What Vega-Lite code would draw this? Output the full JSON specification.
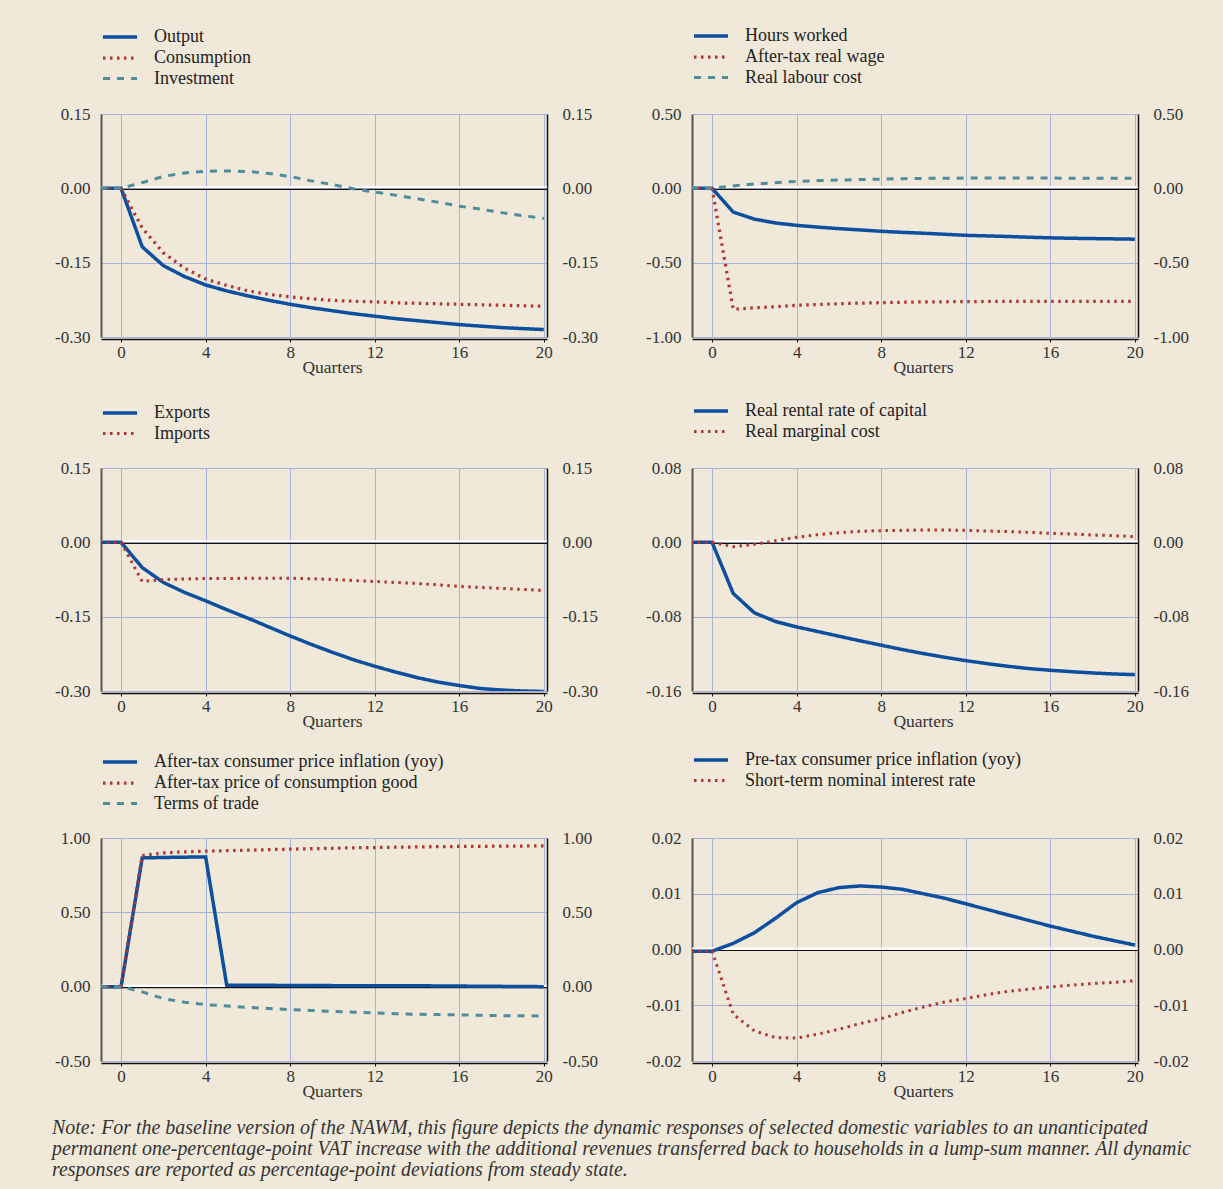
{
"$schema":"https://vega.github.io/schema/vega-lite/v6.json",
"background":"#f0e8d9",
"padding":{"left":52,"top":24,"right":40,"bottom":12},
"config":{"view":{"stroke":null},"font":"Liberation Serif",
"axis":{"labelFont":"Liberation Serif","labelFontSize":17,"labelColor":"#333333","titleFont":"Liberation Serif","titleFontSize":17.5,"titleFontWeight":"normal","titleColor":"#333333"},
"legend":{"labelFont":"Liberation Serif","labelFontSize":18,"labelColor":"#222222","labelOffset":22,"rowPadding":0,"symbolType":"M-1.7,0H1.7","symbolSize":400,"symbolStrokeWidth":3.5,"padding":0,"labelLimit":600}},
"datasets":{
"zero":[{"q":-1,"v":0},{"q":21,"v":0}],
"p1":[
{"s":"Output","q":-1,"v":0},{"s":"Output","q":0,"v":0},{"s":"Output","q":1,"v":-0.118},{"s":"Output","q":2,"v":-0.156},{"s":"Output","q":3,"v":-0.178},{"s":"Output","q":4,"v":-0.195},{"s":"Output","q":5,"v":-0.207},{"s":"Output","q":6,"v":-0.217},{"s":"Output","q":7,"v":-0.226},{"s":"Output","q":8,"v":-0.234},{"s":"Output","q":9,"v":-0.241},{"s":"Output","q":10,"v":-0.247},{"s":"Output","q":11,"v":-0.253},{"s":"Output","q":12,"v":-0.258},{"s":"Output","q":13,"v":-0.263},{"s":"Output","q":14,"v":-0.267},{"s":"Output","q":15,"v":-0.271},{"s":"Output","q":16,"v":-0.275},{"s":"Output","q":17,"v":-0.278},{"s":"Output","q":18,"v":-0.281},{"s":"Output","q":19,"v":-0.283},{"s":"Output","q":20,"v":-0.285},
{"s":"Consumption","q":-1,"v":0},{"s":"Consumption","q":0,"v":0},{"s":"Consumption","q":1,"v":-0.08},{"s":"Consumption","q":2,"v":-0.13},{"s":"Consumption","q":3,"v":-0.161},{"s":"Consumption","q":4,"v":-0.183},{"s":"Consumption","q":5,"v":-0.196},{"s":"Consumption","q":6,"v":-0.207},{"s":"Consumption","q":7,"v":-0.214},{"s":"Consumption","q":8,"v":-0.219},{"s":"Consumption","q":9,"v":-0.223},{"s":"Consumption","q":10,"v":-0.226},{"s":"Consumption","q":11,"v":-0.228},{"s":"Consumption","q":12,"v":-0.229},{"s":"Consumption","q":13,"v":-0.231},{"s":"Consumption","q":14,"v":-0.232},{"s":"Consumption","q":15,"v":-0.233},{"s":"Consumption","q":16,"v":-0.234},{"s":"Consumption","q":17,"v":-0.235},{"s":"Consumption","q":18,"v":-0.236},{"s":"Consumption","q":19,"v":-0.237},{"s":"Consumption","q":20,"v":-0.238},
{"s":"Investment","q":-1,"v":0},{"s":"Investment","q":0,"v":0},{"s":"Investment","q":1,"v":0.0115},{"s":"Investment","q":2,"v":0.024},{"s":"Investment","q":3,"v":0.031},{"s":"Investment","q":4,"v":0.0345},{"s":"Investment","q":5,"v":0.035},{"s":"Investment","q":6,"v":0.034},{"s":"Investment","q":7,"v":0.03},{"s":"Investment","q":8,"v":0.024},{"s":"Investment","q":9,"v":0.015},{"s":"Investment","q":10,"v":0.0075},{"s":"Investment","q":11,"v":-0.001},{"s":"Investment","q":12,"v":-0.0075},{"s":"Investment","q":13,"v":-0.014},{"s":"Investment","q":14,"v":-0.021},{"s":"Investment","q":15,"v":-0.028},{"s":"Investment","q":16,"v":-0.036},{"s":"Investment","q":17,"v":-0.042},{"s":"Investment","q":18,"v":-0.049},{"s":"Investment","q":19,"v":-0.055},{"s":"Investment","q":20,"v":-0.061}],
"p2":[
{"s":"Hours worked","q":-1,"v":0},{"s":"Hours worked","q":0,"v":0},{"s":"Hours worked","q":1,"v":-0.16},{"s":"Hours worked","q":2,"v":-0.207},{"s":"Hours worked","q":3,"v":-0.233},{"s":"Hours worked","q":4,"v":-0.249},{"s":"Hours worked","q":5,"v":-0.261},{"s":"Hours worked","q":6,"v":-0.271},{"s":"Hours worked","q":7,"v":-0.28},{"s":"Hours worked","q":8,"v":-0.289},{"s":"Hours worked","q":9,"v":-0.296},{"s":"Hours worked","q":10,"v":-0.302},{"s":"Hours worked","q":11,"v":-0.309},{"s":"Hours worked","q":12,"v":-0.316},{"s":"Hours worked","q":13,"v":-0.32},{"s":"Hours worked","q":14,"v":-0.324},{"s":"Hours worked","q":15,"v":-0.329},{"s":"Hours worked","q":16,"v":-0.333},{"s":"Hours worked","q":17,"v":-0.336},{"s":"Hours worked","q":18,"v":-0.338},{"s":"Hours worked","q":19,"v":-0.34},{"s":"Hours worked","q":20,"v":-0.342},
{"s":"After-tax real wage","q":-1,"v":0},{"s":"After-tax real wage","q":0,"v":0},{"s":"After-tax real wage","q":1,"v":-0.813},{"s":"After-tax real wage","q":2,"v":-0.804},{"s":"After-tax real wage","q":3,"v":-0.796},{"s":"After-tax real wage","q":4,"v":-0.787},{"s":"After-tax real wage","q":5,"v":-0.781},{"s":"After-tax real wage","q":6,"v":-0.776},{"s":"After-tax real wage","q":7,"v":-0.772},{"s":"After-tax real wage","q":8,"v":-0.769},{"s":"After-tax real wage","q":9,"v":-0.766},{"s":"After-tax real wage","q":10,"v":-0.764},{"s":"After-tax real wage","q":11,"v":-0.763},{"s":"After-tax real wage","q":12,"v":-0.762},{"s":"After-tax real wage","q":13,"v":-0.761},{"s":"After-tax real wage","q":14,"v":-0.761},{"s":"After-tax real wage","q":15,"v":-0.76},{"s":"After-tax real wage","q":16,"v":-0.76},{"s":"After-tax real wage","q":17,"v":-0.76},{"s":"After-tax real wage","q":18,"v":-0.76},{"s":"After-tax real wage","q":19,"v":-0.76},{"s":"After-tax real wage","q":20,"v":-0.76},
{"s":"Real labour cost","q":-1,"v":0},{"s":"Real labour cost","q":0,"v":0},{"s":"Real labour cost","q":1,"v":0.016},{"s":"Real labour cost","q":2,"v":0.029},{"s":"Real labour cost","q":3,"v":0.038},{"s":"Real labour cost","q":4,"v":0.047},{"s":"Real labour cost","q":5,"v":0.052},{"s":"Real labour cost","q":6,"v":0.056},{"s":"Real labour cost","q":7,"v":0.059},{"s":"Real labour cost","q":8,"v":0.062},{"s":"Real labour cost","q":9,"v":0.065},{"s":"Real labour cost","q":10,"v":0.067},{"s":"Real labour cost","q":11,"v":0.068},{"s":"Real labour cost","q":12,"v":0.069},{"s":"Real labour cost","q":13,"v":0.069},{"s":"Real labour cost","q":14,"v":0.069},{"s":"Real labour cost","q":15,"v":0.069},{"s":"Real labour cost","q":16,"v":0.069},{"s":"Real labour cost","q":17,"v":0.068},{"s":"Real labour cost","q":18,"v":0.067},{"s":"Real labour cost","q":19,"v":0.067},{"s":"Real labour cost","q":20,"v":0.067}],
"p3":[
{"s":"Exports","q":-1,"v":0},{"s":"Exports","q":0,"v":0},{"s":"Exports","q":1,"v":-0.051},{"s":"Exports","q":2,"v":-0.081},{"s":"Exports","q":3,"v":-0.101},{"s":"Exports","q":4,"v":-0.118},{"s":"Exports","q":5,"v":-0.136},{"s":"Exports","q":6,"v":-0.153},{"s":"Exports","q":7,"v":-0.171},{"s":"Exports","q":8,"v":-0.189},{"s":"Exports","q":9,"v":-0.206},{"s":"Exports","q":10,"v":-0.222},{"s":"Exports","q":11,"v":-0.237},{"s":"Exports","q":12,"v":-0.25},{"s":"Exports","q":13,"v":-0.262},{"s":"Exports","q":14,"v":-0.273},{"s":"Exports","q":15,"v":-0.282},{"s":"Exports","q":16,"v":-0.289},{"s":"Exports","q":17,"v":-0.295},{"s":"Exports","q":18,"v":-0.298},{"s":"Exports","q":19,"v":-0.3},{"s":"Exports","q":20,"v":-0.301},
{"s":"Imports","q":-1,"v":0},{"s":"Imports","q":0,"v":0},{"s":"Imports","q":1,"v":-0.079},{"s":"Imports","q":2,"v":-0.075},{"s":"Imports","q":3,"v":-0.074},{"s":"Imports","q":4,"v":-0.073},{"s":"Imports","q":5,"v":-0.073},{"s":"Imports","q":6,"v":-0.0725},{"s":"Imports","q":7,"v":-0.0725},{"s":"Imports","q":8,"v":-0.0725},{"s":"Imports","q":9,"v":-0.0735},{"s":"Imports","q":10,"v":-0.075},{"s":"Imports","q":11,"v":-0.077},{"s":"Imports","q":12,"v":-0.079},{"s":"Imports","q":13,"v":-0.081},{"s":"Imports","q":14,"v":-0.083},{"s":"Imports","q":15,"v":-0.086},{"s":"Imports","q":16,"v":-0.089},{"s":"Imports","q":17,"v":-0.091},{"s":"Imports","q":18,"v":-0.093},{"s":"Imports","q":19,"v":-0.095},{"s":"Imports","q":20,"v":-0.097}],
"p4":[
{"s":"Real rental rate of capital","q":-1,"v":0},{"s":"Real rental rate of capital","q":0,"v":0},{"s":"Real rental rate of capital","q":1,"v":-0.055},{"s":"Real rental rate of capital","q":2,"v":-0.0759},{"s":"Real rental rate of capital","q":3,"v":-0.0852},{"s":"Real rental rate of capital","q":4,"v":-0.091},{"s":"Real rental rate of capital","q":5,"v":-0.096},{"s":"Real rental rate of capital","q":6,"v":-0.101},{"s":"Real rental rate of capital","q":7,"v":-0.106},{"s":"Real rental rate of capital","q":8,"v":-0.1107},{"s":"Real rental rate of capital","q":9,"v":-0.1154},{"s":"Real rental rate of capital","q":10,"v":-0.1197},{"s":"Real rental rate of capital","q":11,"v":-0.1237},{"s":"Real rental rate of capital","q":12,"v":-0.1273},{"s":"Real rental rate of capital","q":13,"v":-0.1305},{"s":"Real rental rate of capital","q":14,"v":-0.1334},{"s":"Real rental rate of capital","q":15,"v":-0.1359},{"s":"Real rental rate of capital","q":16,"v":-0.1377},{"s":"Real rental rate of capital","q":17,"v":-0.1392},{"s":"Real rental rate of capital","q":18,"v":-0.1406},{"s":"Real rental rate of capital","q":19,"v":-0.1417},{"s":"Real rental rate of capital","q":20,"v":-0.1424},
{"s":"Real marginal cost","q":-1,"v":0},{"s":"Real marginal cost","q":0,"v":0},{"s":"Real marginal cost","q":1,"v":-0.0047},{"s":"Real marginal cost","q":2,"v":-0.0022},{"s":"Real marginal cost","q":3,"v":0.0018},{"s":"Real marginal cost","q":4,"v":0.0054},{"s":"Real marginal cost","q":5,"v":0.0083},{"s":"Real marginal cost","q":6,"v":0.0104},{"s":"Real marginal cost","q":7,"v":0.0119},{"s":"Real marginal cost","q":8,"v":0.0126},{"s":"Real marginal cost","q":9,"v":0.0129},{"s":"Real marginal cost","q":10,"v":0.0133},{"s":"Real marginal cost","q":11,"v":0.0133},{"s":"Real marginal cost","q":12,"v":0.0129},{"s":"Real marginal cost","q":13,"v":0.0122},{"s":"Real marginal cost","q":14,"v":0.0115},{"s":"Real marginal cost","q":15,"v":0.0108},{"s":"Real marginal cost","q":16,"v":0.0097},{"s":"Real marginal cost","q":17,"v":0.009},{"s":"Real marginal cost","q":18,"v":0.0079},{"s":"Real marginal cost","q":19,"v":0.0072},{"s":"Real marginal cost","q":20,"v":0.0061}],
"p5":[
{"s":"After-tax consumer price inflation (yoy)","q":-1,"v":0},{"s":"After-tax consumer price inflation (yoy)","q":0,"v":0},{"s":"After-tax consumer price inflation (yoy)","q":1,"v":0.866},{"s":"After-tax consumer price inflation (yoy)","q":2,"v":0.869},{"s":"After-tax consumer price inflation (yoy)","q":3,"v":0.871},{"s":"After-tax consumer price inflation (yoy)","q":4,"v":0.873},{"s":"After-tax consumer price inflation (yoy)","q":5,"v":0.009},{"s":"After-tax consumer price inflation (yoy)","q":6,"v":0.009},{"s":"After-tax consumer price inflation (yoy)","q":7,"v":0.009},{"s":"After-tax consumer price inflation (yoy)","q":8,"v":0.008},{"s":"After-tax consumer price inflation (yoy)","q":9,"v":0.008},{"s":"After-tax consumer price inflation (yoy)","q":10,"v":0.007},{"s":"After-tax consumer price inflation (yoy)","q":11,"v":0.007},{"s":"After-tax consumer price inflation (yoy)","q":12,"v":0.007},{"s":"After-tax consumer price inflation (yoy)","q":13,"v":0.006},{"s":"After-tax consumer price inflation (yoy)","q":14,"v":0.006},{"s":"After-tax consumer price inflation (yoy)","q":15,"v":0.005},{"s":"After-tax consumer price inflation (yoy)","q":16,"v":0.004},{"s":"After-tax consumer price inflation (yoy)","q":17,"v":0.003},{"s":"After-tax consumer price inflation (yoy)","q":18,"v":0.002},{"s":"After-tax consumer price inflation (yoy)","q":19,"v":0.001},{"s":"After-tax consumer price inflation (yoy)","q":20,"v":0},
{"s":"After-tax price of consumption good","q":-1,"v":0},{"s":"After-tax price of consumption good","q":0,"v":0},{"s":"After-tax price of consumption good","q":1,"v":0.882},{"s":"After-tax price of consumption good","q":2,"v":0.9},{"s":"After-tax price of consumption good","q":3,"v":0.907},{"s":"After-tax price of consumption good","q":4,"v":0.911},{"s":"After-tax price of consumption good","q":5,"v":0.915},{"s":"After-tax price of consumption good","q":6,"v":0.918},{"s":"After-tax price of consumption good","q":7,"v":0.922},{"s":"After-tax price of consumption good","q":8,"v":0.925},{"s":"After-tax price of consumption good","q":9,"v":0.928},{"s":"After-tax price of consumption good","q":10,"v":0.931},{"s":"After-tax price of consumption good","q":11,"v":0.934},{"s":"After-tax price of consumption good","q":12,"v":0.936},{"s":"After-tax price of consumption good","q":13,"v":0.938},{"s":"After-tax price of consumption good","q":14,"v":0.94},{"s":"After-tax price of consumption good","q":15,"v":0.942},{"s":"After-tax price of consumption good","q":16,"v":0.943},{"s":"After-tax price of consumption good","q":17,"v":0.944},{"s":"After-tax price of consumption good","q":18,"v":0.945},{"s":"After-tax price of consumption good","q":19,"v":0.946},{"s":"After-tax price of consumption good","q":20,"v":0.947},
{"s":"Terms of trade","q":-1,"v":0},{"s":"Terms of trade","q":0,"v":0},{"s":"Terms of trade","q":1,"v":-0.035},{"s":"Terms of trade","q":2,"v":-0.08},{"s":"Terms of trade","q":3,"v":-0.105},{"s":"Terms of trade","q":4,"v":-0.121},{"s":"Terms of trade","q":5,"v":-0.13},{"s":"Terms of trade","q":6,"v":-0.139},{"s":"Terms of trade","q":7,"v":-0.147},{"s":"Terms of trade","q":8,"v":-0.154},{"s":"Terms of trade","q":9,"v":-0.16},{"s":"Terms of trade","q":10,"v":-0.166},{"s":"Terms of trade","q":11,"v":-0.172},{"s":"Terms of trade","q":12,"v":-0.177},{"s":"Terms of trade","q":13,"v":-0.182},{"s":"Terms of trade","q":14,"v":-0.186},{"s":"Terms of trade","q":15,"v":-0.188},{"s":"Terms of trade","q":16,"v":-0.19},{"s":"Terms of trade","q":17,"v":-0.193},{"s":"Terms of trade","q":18,"v":-0.195},{"s":"Terms of trade","q":19,"v":-0.196},{"s":"Terms of trade","q":20,"v":-0.197}],
"p6":[
{"s":"Pre-tax consumer price inflation (yoy)","q":-1,"v":-0.0003},{"s":"Pre-tax consumer price inflation (yoy)","q":0,"v":-0.0003},{"s":"Pre-tax consumer price inflation (yoy)","q":1,"v":0.0011},{"s":"Pre-tax consumer price inflation (yoy)","q":2,"v":0.003},{"s":"Pre-tax consumer price inflation (yoy)","q":3,"v":0.0056},{"s":"Pre-tax consumer price inflation (yoy)","q":4,"v":0.0084},{"s":"Pre-tax consumer price inflation (yoy)","q":5,"v":0.0102},{"s":"Pre-tax consumer price inflation (yoy)","q":6,"v":0.0111},{"s":"Pre-tax consumer price inflation (yoy)","q":7,"v":0.0114},{"s":"Pre-tax consumer price inflation (yoy)","q":8,"v":0.0112},{"s":"Pre-tax consumer price inflation (yoy)","q":9,"v":0.0108},{"s":"Pre-tax consumer price inflation (yoy)","q":10,"v":0.01},{"s":"Pre-tax consumer price inflation (yoy)","q":11,"v":0.0092},{"s":"Pre-tax consumer price inflation (yoy)","q":12,"v":0.0082},{"s":"Pre-tax consumer price inflation (yoy)","q":13,"v":0.0072},{"s":"Pre-tax consumer price inflation (yoy)","q":14,"v":0.0062},{"s":"Pre-tax consumer price inflation (yoy)","q":15,"v":0.0052},{"s":"Pre-tax consumer price inflation (yoy)","q":16,"v":0.0042},{"s":"Pre-tax consumer price inflation (yoy)","q":17,"v":0.0033},{"s":"Pre-tax consumer price inflation (yoy)","q":18,"v":0.0024},{"s":"Pre-tax consumer price inflation (yoy)","q":19,"v":0.0016},{"s":"Pre-tax consumer price inflation (yoy)","q":20,"v":0.0008},
{"s":"Short-term nominal interest rate","q":-1,"v":-0.0003},{"s":"Short-term nominal interest rate","q":0,"v":-0.0003},{"s":"Short-term nominal interest rate","q":1,"v":-0.0116},{"s":"Short-term nominal interest rate","q":2,"v":-0.0146},{"s":"Short-term nominal interest rate","q":3,"v":-0.0158},{"s":"Short-term nominal interest rate","q":4,"v":-0.0159},{"s":"Short-term nominal interest rate","q":5,"v":-0.0152},{"s":"Short-term nominal interest rate","q":6,"v":-0.0143},{"s":"Short-term nominal interest rate","q":7,"v":-0.0133},{"s":"Short-term nominal interest rate","q":8,"v":-0.0124},{"s":"Short-term nominal interest rate","q":9,"v":-0.0113},{"s":"Short-term nominal interest rate","q":10,"v":-0.0103},{"s":"Short-term nominal interest rate","q":11,"v":-0.0094},{"s":"Short-term nominal interest rate","q":12,"v":-0.0088},{"s":"Short-term nominal interest rate","q":13,"v":-0.0081},{"s":"Short-term nominal interest rate","q":14,"v":-0.0075},{"s":"Short-term nominal interest rate","q":15,"v":-0.0071},{"s":"Short-term nominal interest rate","q":16,"v":-0.0067},{"s":"Short-term nominal interest rate","q":17,"v":-0.0064},{"s":"Short-term nominal interest rate","q":18,"v":-0.0061},{"s":"Short-term nominal interest rate","q":19,"v":-0.0059},{"s":"Short-term nominal interest rate","q":20,"v":-0.0056}]
},
"resolve":{"scale":{"color":"independent","strokeDash":"independent","strokeWidth":"independent"},"legend":{"color":"independent","strokeDash":"independent"}},
"vconcat":[
{"resolve":{"scale":{"color":"independent","strokeDash":"independent","strokeWidth":"independent"},"legend":{"color":"independent","strokeDash":"independent"}},
"hconcat":[
{"width":446,"height":223,"layer":[
{"data":{"name":"zero"},"mark":{"type":"line","color":"#ffffff","strokeWidth":2,"yOffset":-1,"clip":true},"encoding":{"x":{"field":"q","type":"quantitative","scale":{"domain":[-0.95,20.15],"nice":false,"zero":false},"axis":{"values":[0,4,8,12,16,20],"grid":true,"gridColor":"#a8b0dc","gridWidth":1,"offset":2,"domainColor":"#111111","domainWidth":1.5,"tickColor":"#111111","tickSize":3,"labelPadding":2,"title":"Quarters","titlePadding":-2,"titleX":231}},"y":{"field":"v","type":"quantitative","scale":{"domain":[-0.3,0.15],"nice":false,"zero":false},"axis":{"orient":"left","values":[-0.3,-0.15,0,0.15],"grid":true,"gridColor":"#a8b0dc","gridWidth":1,"domainColor":"#555555","domainWidth":2,"ticks":false,"labelPadding":11,"labelExpr":"replace(format(datum.value, '.2f'), '\u2212', '-')","title":null}}}},
{"data":{"name":"zero"},"mark":{"type":"line","color":"#111111","strokeWidth":1.2,"yOffset":1,"clip":true},"encoding":{"x":{"field":"q","type":"quantitative","scale":{"domain":[-0.95,20.15],"nice":false,"zero":false},"axis":{"values":[0,4,8,12,16,20],"grid":true,"gridColor":"#a8b0dc","gridWidth":1,"offset":2,"domainColor":"#111111","domainWidth":1.5,"tickColor":"#111111","tickSize":3,"labelPadding":2,"title":"Quarters","titlePadding":-2,"titleX":231}},"y":{"field":"v","type":"quantitative","scale":{"domain":[-0.3,0.15],"nice":false,"zero":false},"axis":{"orient":"right","values":[-0.3,-0.15,0,0.15],"grid":false,"domainColor":"#111111","domainWidth":1.5,"ticks":false,"labelPadding":15,"labelExpr":"replace(format(datum.value, '.2f'), '\u2212', '-')","title":null}}}},
{"data":{"name":"p1"},"mark":{"type":"line","clip":true},"encoding":{
"x":{"field":"q","type":"quantitative","scale":{"domain":[-0.95,20.15],"nice":false,"zero":false},"axis":{"values":[0,4,8,12,16,20],"grid":true,"gridColor":"#a8b0dc","gridWidth":1,"offset":2,"domainColor":"#111111","domainWidth":1.5,"tickColor":"#111111","tickSize":3,"labelPadding":2,"title":"Quarters","titlePadding":-2,"titleX":231}},
"y":{"field":"v","type":"quantitative","scale":{"domain":[-0.3,0.15],"nice":false,"zero":false},"axis":null},
"color":{"field":"s","type":"nominal","title":null,"scale":{"domain":["Output","Consumption","Investment"],"range":["#0b4f9e","#b2352f","#4f8c9d"]},"legend":{"orient":"none","legendX":7,"legendY":-89}},
"strokeDash":{"field":"s","type":"nominal","title":null,"scale":{"domain":["Output","Consumption","Investment"],"range":[[1,0],[2.5,4.5],[7,7]]},"legend":{"orient":"none","legendX":7,"legendY":-89}},
"strokeWidth":{"field":"s","type":"nominal","scale":{"domain":["Output","Consumption","Investment"],"range":[3.5,3,3.5]},"legend":null}}}
],"resolve":{"axis":{"y":"independent"}}},
{"width":446,"height":223,"layer":[
{"data":{"name":"zero"},"mark":{"type":"line","color":"#ffffff","strokeWidth":2,"yOffset":-1,"clip":true},"encoding":{"x":{"field":"q","type":"quantitative","scale":{"domain":[-0.95,20.15],"nice":false,"zero":false},"axis":{"values":[0,4,8,12,16,20],"grid":true,"gridColor":"#a8b0dc","gridWidth":1,"offset":2,"domainColor":"#111111","domainWidth":1.5,"tickColor":"#111111","tickSize":3,"labelPadding":2,"title":"Quarters","titlePadding":-2,"titleX":231}},"y":{"field":"v","type":"quantitative","scale":{"domain":[-1,0.5],"nice":false,"zero":false},"axis":{"orient":"left","values":[-1,-0.5,0,0.5],"grid":true,"gridColor":"#a8b0dc","gridWidth":1,"domainColor":"#555555","domainWidth":2,"ticks":false,"labelPadding":11,"labelExpr":"replace(format(datum.value, '.2f'), '\u2212', '-')","title":null}}}},
{"data":{"name":"zero"},"mark":{"type":"line","color":"#111111","strokeWidth":1.2,"yOffset":1,"clip":true},"encoding":{"x":{"field":"q","type":"quantitative","scale":{"domain":[-0.95,20.15],"nice":false,"zero":false},"axis":{"values":[0,4,8,12,16,20],"grid":true,"gridColor":"#a8b0dc","gridWidth":1,"offset":2,"domainColor":"#111111","domainWidth":1.5,"tickColor":"#111111","tickSize":3,"labelPadding":2,"title":"Quarters","titlePadding":-2,"titleX":231}},"y":{"field":"v","type":"quantitative","scale":{"domain":[-1,0.5],"nice":false,"zero":false},"axis":{"orient":"right","values":[-1,-0.5,0,0.5],"grid":false,"domainColor":"#111111","domainWidth":1.5,"ticks":false,"labelPadding":15,"labelExpr":"replace(format(datum.value, '.2f'), '\u2212', '-')","title":null}}}},
{"data":{"name":"p2"},"mark":{"type":"line","clip":true},"encoding":{
"x":{"field":"q","type":"quantitative","scale":{"domain":[-0.95,20.15],"nice":false,"zero":false},"axis":{"values":[0,4,8,12,16,20],"grid":true,"gridColor":"#a8b0dc","gridWidth":1,"offset":2,"domainColor":"#111111","domainWidth":1.5,"tickColor":"#111111","tickSize":3,"labelPadding":2,"title":"Quarters","titlePadding":-2,"titleX":231}},
"y":{"field":"v","type":"quantitative","scale":{"domain":[-1,0.5],"nice":false,"zero":false},"axis":null},
"color":{"field":"s","type":"nominal","title":null,"scale":{"domain":["Hours worked","After-tax real wage","Real labour cost"],"range":["#0b4f9e","#b2352f","#4f8c9d"]},"legend":{"orient":"none","legendX":7,"legendY":-90}},
"strokeDash":{"field":"s","type":"nominal","title":null,"scale":{"domain":["Hours worked","After-tax real wage","Real labour cost"],"range":[[1,0],[2.5,4.5],[7,7]]},"legend":{"orient":"none","legendX":7,"legendY":-90}},
"strokeWidth":{"field":"s","type":"nominal","scale":{"domain":["Hours worked","After-tax real wage","Real labour cost"],"range":[3.5,3,3.5]},"legend":null}}}
],"resolve":{"axis":{"y":"independent"}}}
],"spacing":47},
{"resolve":{"scale":{"color":"independent","strokeDash":"independent","strokeWidth":"independent"},"legend":{"color":"independent","strokeDash":"independent"}},
"hconcat":[
{"width":446,"height":223,"layer":[
{"data":{"name":"zero"},"mark":{"type":"line","color":"#ffffff","strokeWidth":2,"yOffset":-1,"clip":true},"encoding":{"x":{"field":"q","type":"quantitative","scale":{"domain":[-0.95,20.15],"nice":false,"zero":false},"axis":{"values":[0,4,8,12,16,20],"grid":true,"gridColor":"#a8b0dc","gridWidth":1,"offset":2,"domainColor":"#111111","domainWidth":1.5,"tickColor":"#111111","tickSize":3,"labelPadding":2,"title":"Quarters","titlePadding":-2,"titleX":231}},"y":{"field":"v","type":"quantitative","scale":{"domain":[-0.3,0.15],"nice":false,"zero":false},"axis":{"orient":"left","values":[-0.3,-0.15,0,0.15],"grid":true,"gridColor":"#a8b0dc","gridWidth":1,"domainColor":"#555555","domainWidth":2,"ticks":false,"labelPadding":11,"labelExpr":"replace(format(datum.value, '.2f'), '\u2212', '-')","title":null}}}},
{"data":{"name":"zero"},"mark":{"type":"line","color":"#111111","strokeWidth":1.2,"yOffset":1,"clip":true},"encoding":{"x":{"field":"q","type":"quantitative","scale":{"domain":[-0.95,20.15],"nice":false,"zero":false},"axis":{"values":[0,4,8,12,16,20],"grid":true,"gridColor":"#a8b0dc","gridWidth":1,"offset":2,"domainColor":"#111111","domainWidth":1.5,"tickColor":"#111111","tickSize":3,"labelPadding":2,"title":"Quarters","titlePadding":-2,"titleX":231}},"y":{"field":"v","type":"quantitative","scale":{"domain":[-0.3,0.15],"nice":false,"zero":false},"axis":{"orient":"right","values":[-0.3,-0.15,0,0.15],"grid":false,"domainColor":"#111111","domainWidth":1.5,"ticks":false,"labelPadding":15,"labelExpr":"replace(format(datum.value, '.2f'), '\u2212', '-')","title":null}}}},
{"data":{"name":"p3"},"mark":{"type":"line","clip":true},"encoding":{
"x":{"field":"q","type":"quantitative","scale":{"domain":[-0.95,20.15],"nice":false,"zero":false},"axis":{"values":[0,4,8,12,16,20],"grid":true,"gridColor":"#a8b0dc","gridWidth":1,"offset":2,"domainColor":"#111111","domainWidth":1.5,"tickColor":"#111111","tickSize":3,"labelPadding":2,"title":"Quarters","titlePadding":-2,"titleX":231}},
"y":{"field":"v","type":"quantitative","scale":{"domain":[-0.3,0.15],"nice":false,"zero":false},"axis":null},
"color":{"field":"s","type":"nominal","title":null,"scale":{"domain":["Exports","Imports"],"range":["#0b4f9e","#b2352f"]},"legend":{"orient":"none","legendX":2,"legendY":-72,"padding":5}},
"strokeDash":{"field":"s","type":"nominal","title":null,"scale":{"domain":["Exports","Imports"],"range":[[1,0],[2.5,4.5]]},"legend":{"orient":"none","legendX":2,"legendY":-72,"padding":5}},
"strokeWidth":{"field":"s","type":"nominal","scale":{"domain":["Exports","Imports"],"range":[3.5,3]},"legend":null}}}
],"resolve":{"axis":{"y":"independent"}}},
{"width":446,"height":223,"layer":[
{"data":{"name":"zero"},"mark":{"type":"line","color":"#ffffff","strokeWidth":2,"yOffset":-1,"clip":true},"encoding":{"x":{"field":"q","type":"quantitative","scale":{"domain":[-0.95,20.15],"nice":false,"zero":false},"axis":{"values":[0,4,8,12,16,20],"grid":true,"gridColor":"#a8b0dc","gridWidth":1,"offset":2,"domainColor":"#111111","domainWidth":1.5,"tickColor":"#111111","tickSize":3,"labelPadding":2,"title":"Quarters","titlePadding":-2,"titleX":231}},"y":{"field":"v","type":"quantitative","scale":{"domain":[-0.16,0.08],"nice":false,"zero":false},"axis":{"orient":"left","values":[-0.16,-0.08,0,0.08],"grid":true,"gridColor":"#a8b0dc","gridWidth":1,"domainColor":"#555555","domainWidth":2,"ticks":false,"labelPadding":11,"labelExpr":"replace(format(datum.value, '.2f'), '\u2212', '-')","title":null}}}},
{"data":{"name":"zero"},"mark":{"type":"line","color":"#111111","strokeWidth":1.2,"yOffset":1,"clip":true},"encoding":{"x":{"field":"q","type":"quantitative","scale":{"domain":[-0.95,20.15],"nice":false,"zero":false},"axis":{"values":[0,4,8,12,16,20],"grid":true,"gridColor":"#a8b0dc","gridWidth":1,"offset":2,"domainColor":"#111111","domainWidth":1.5,"tickColor":"#111111","tickSize":3,"labelPadding":2,"title":"Quarters","titlePadding":-2,"titleX":231}},"y":{"field":"v","type":"quantitative","scale":{"domain":[-0.16,0.08],"nice":false,"zero":false},"axis":{"orient":"right","values":[-0.16,-0.08,0,0.08],"grid":false,"domainColor":"#111111","domainWidth":1.5,"ticks":false,"labelPadding":15,"labelExpr":"replace(format(datum.value, '.2f'), '\u2212', '-')","title":null}}}},
{"data":{"name":"p4"},"mark":{"type":"line","clip":true},"encoding":{
"x":{"field":"q","type":"quantitative","scale":{"domain":[-0.95,20.15],"nice":false,"zero":false},"axis":{"values":[0,4,8,12,16,20],"grid":true,"gridColor":"#a8b0dc","gridWidth":1,"offset":2,"domainColor":"#111111","domainWidth":1.5,"tickColor":"#111111","tickSize":3,"labelPadding":2,"title":"Quarters","titlePadding":-2,"titleX":231}},
"y":{"field":"v","type":"quantitative","scale":{"domain":[-0.16,0.08],"nice":false,"zero":false},"axis":null},
"color":{"field":"s","type":"nominal","title":null,"scale":{"domain":["Real rental rate of capital","Real marginal cost"],"range":["#0b4f9e","#b2352f"]},"legend":{"orient":"none","legendX":2,"legendY":-74,"padding":5}},
"strokeDash":{"field":"s","type":"nominal","title":null,"scale":{"domain":["Real rental rate of capital","Real marginal cost"],"range":[[1,0],[2.5,4.5]]},"legend":{"orient":"none","legendX":2,"legendY":-74,"padding":5}},
"strokeWidth":{"field":"s","type":"nominal","scale":{"domain":["Real rental rate of capital","Real marginal cost"],"range":[3.5,3]},"legend":null}}}
],"resolve":{"axis":{"y":"independent"}}}
],"spacing":47},
{"resolve":{"scale":{"color":"independent","strokeDash":"independent","strokeWidth":"independent"},"legend":{"color":"independent","strokeDash":"independent"}},
"hconcat":[
{"width":446,"height":223,"layer":[
{"data":{"name":"zero"},"mark":{"type":"line","color":"#ffffff","strokeWidth":2,"yOffset":-1,"clip":true},"encoding":{"x":{"field":"q","type":"quantitative","scale":{"domain":[-0.95,20.15],"nice":false,"zero":false},"axis":{"values":[0,4,8,12,16,20],"grid":true,"gridColor":"#a8b0dc","gridWidth":1,"offset":2,"domainColor":"#111111","domainWidth":1.5,"tickColor":"#111111","tickSize":3,"labelPadding":2,"title":"Quarters","titlePadding":-2,"titleX":231}},"y":{"field":"v","type":"quantitative","scale":{"domain":[-0.5,1],"nice":false,"zero":false},"axis":{"orient":"left","values":[-0.5,0,0.5,1],"grid":true,"gridColor":"#a8b0dc","gridWidth":1,"domainColor":"#555555","domainWidth":2,"ticks":false,"labelPadding":11,"labelExpr":"replace(format(datum.value, '.2f'), '\u2212', '-')","title":null}}}},
{"data":{"name":"zero"},"mark":{"type":"line","color":"#111111","strokeWidth":1.2,"yOffset":1,"clip":true},"encoding":{"x":{"field":"q","type":"quantitative","scale":{"domain":[-0.95,20.15],"nice":false,"zero":false},"axis":{"values":[0,4,8,12,16,20],"grid":true,"gridColor":"#a8b0dc","gridWidth":1,"offset":2,"domainColor":"#111111","domainWidth":1.5,"tickColor":"#111111","tickSize":3,"labelPadding":2,"title":"Quarters","titlePadding":-2,"titleX":231}},"y":{"field":"v","type":"quantitative","scale":{"domain":[-0.5,1],"nice":false,"zero":false},"axis":{"orient":"right","values":[-0.5,0,0.5,1],"grid":false,"domainColor":"#111111","domainWidth":1.5,"ticks":false,"labelPadding":15,"labelExpr":"replace(format(datum.value, '.2f'), '\u2212', '-')","title":null}}}},
{"data":{"name":"p5"},"mark":{"type":"line","clip":true},"encoding":{
"x":{"field":"q","type":"quantitative","scale":{"domain":[-0.95,20.15],"nice":false,"zero":false},"axis":{"values":[0,4,8,12,16,20],"grid":true,"gridColor":"#a8b0dc","gridWidth":1,"offset":2,"domainColor":"#111111","domainWidth":1.5,"tickColor":"#111111","tickSize":3,"labelPadding":2,"title":"Quarters","titlePadding":-2,"titleX":231}},
"y":{"field":"v","type":"quantitative","scale":{"domain":[-0.5,1],"nice":false,"zero":false},"axis":null},
"color":{"field":"s","type":"nominal","title":null,"scale":{"domain":["After-tax consumer price inflation (yoy)","After-tax price of consumption good","Terms of trade"],"range":["#0b4f9e","#b2352f","#4f8c9d"]},"legend":{"orient":"none","legendX":7,"legendY":-88}},
"strokeDash":{"field":"s","type":"nominal","title":null,"scale":{"domain":["After-tax consumer price inflation (yoy)","After-tax price of consumption good","Terms of trade"],"range":[[1,0],[2.5,4.5],[7,7]]},"legend":{"orient":"none","legendX":7,"legendY":-88}},
"strokeWidth":{"field":"s","type":"nominal","scale":{"domain":["After-tax consumer price inflation (yoy)","After-tax price of consumption good","Terms of trade"],"range":[3.5,3,3.5]},"legend":null}}}
],"resolve":{"axis":{"y":"independent"}}},
{"width":446,"height":223,"layer":[
{"data":{"name":"zero"},"mark":{"type":"line","color":"#ffffff","strokeWidth":2,"yOffset":-1,"clip":true},"encoding":{"x":{"field":"q","type":"quantitative","scale":{"domain":[-0.95,20.15],"nice":false,"zero":false},"axis":{"values":[0,4,8,12,16,20],"grid":true,"gridColor":"#a8b0dc","gridWidth":1,"offset":2,"domainColor":"#111111","domainWidth":1.5,"tickColor":"#111111","tickSize":3,"labelPadding":2,"title":"Quarters","titlePadding":-2,"titleX":231}},"y":{"field":"v","type":"quantitative","scale":{"domain":[-0.02,0.02],"nice":false,"zero":false},"axis":{"orient":"left","values":[-0.02,-0.01,0,0.01,0.02],"grid":true,"gridColor":"#a8b0dc","gridWidth":1,"domainColor":"#555555","domainWidth":2,"ticks":false,"labelPadding":11,"labelExpr":"replace(format(datum.value, '.2f'), '\u2212', '-')","title":null}}}},
{"data":{"name":"zero"},"mark":{"type":"line","color":"#111111","strokeWidth":1.2,"yOffset":1,"clip":true},"encoding":{"x":{"field":"q","type":"quantitative","scale":{"domain":[-0.95,20.15],"nice":false,"zero":false},"axis":{"values":[0,4,8,12,16,20],"grid":true,"gridColor":"#a8b0dc","gridWidth":1,"offset":2,"domainColor":"#111111","domainWidth":1.5,"tickColor":"#111111","tickSize":3,"labelPadding":2,"title":"Quarters","titlePadding":-2,"titleX":231}},"y":{"field":"v","type":"quantitative","scale":{"domain":[-0.02,0.02],"nice":false,"zero":false},"axis":{"orient":"right","values":[-0.02,-0.01,0,0.01,0.02],"grid":false,"domainColor":"#111111","domainWidth":1.5,"ticks":false,"labelPadding":15,"labelExpr":"replace(format(datum.value, '.2f'), '\u2212', '-')","title":null}}}},
{"data":{"name":"p6"},"mark":{"type":"line","clip":true},"encoding":{
"x":{"field":"q","type":"quantitative","scale":{"domain":[-0.95,20.15],"nice":false,"zero":false},"axis":{"values":[0,4,8,12,16,20],"grid":true,"gridColor":"#a8b0dc","gridWidth":1,"offset":2,"domainColor":"#111111","domainWidth":1.5,"tickColor":"#111111","tickSize":3,"labelPadding":2,"title":"Quarters","titlePadding":-2,"titleX":231}},
"y":{"field":"v","type":"quantitative","scale":{"domain":[-0.02,0.02],"nice":false,"zero":false},"axis":null},
"color":{"field":"s","type":"nominal","title":null,"scale":{"domain":["Pre-tax consumer price inflation (yoy)","Short-term nominal interest rate"],"range":["#0b4f9e","#b2352f"]},"legend":{"orient":"none","legendX":7,"legendY":-90}},
"strokeDash":{"field":"s","type":"nominal","title":null,"scale":{"domain":["Pre-tax consumer price inflation (yoy)","Short-term nominal interest rate"],"range":[[1,0],[2.5,4.5]]},"legend":{"orient":"none","legendX":7,"legendY":-90}},
"strokeWidth":{"field":"s","type":"nominal","scale":{"domain":["Pre-tax consumer price inflation (yoy)","Short-term nominal interest rate"],"range":[3.5,3]},"legend":null}}}
],"resolve":{"axis":{"y":"independent"}}}
],"spacing":47},
{"width":1080,"height":42,
"data":{"values":[
{"i":0,"t":"Note: For the baseline version of the NAWM, this figure depicts the dynamic responses of selected domestic variables to an unanticipated"},
{"i":1,"t":"permanent one-percentage-point VAT increase with the additional revenues transferred back to households in a lump-sum manner. All dynamic"},
{"i":2,"t":"responses are reported as percentage-point deviations from steady state."}]},
"mark":{"type":"text","align":"left","baseline":"middle","font":"Liberation Serif","fontStyle":"italic","fontSize":19.9,"color":"#333333","dx":-49,"dy":-5},
"encoding":{"x":{"datum":0,"type":"quantitative","scale":{"domain":[0,1]},"axis":null},"y":{"field":"i","type":"quantitative","scale":{"domain":[0,2],"reverse":true},"axis":null},"text":{"field":"t"}}}
],"spacing":18}
